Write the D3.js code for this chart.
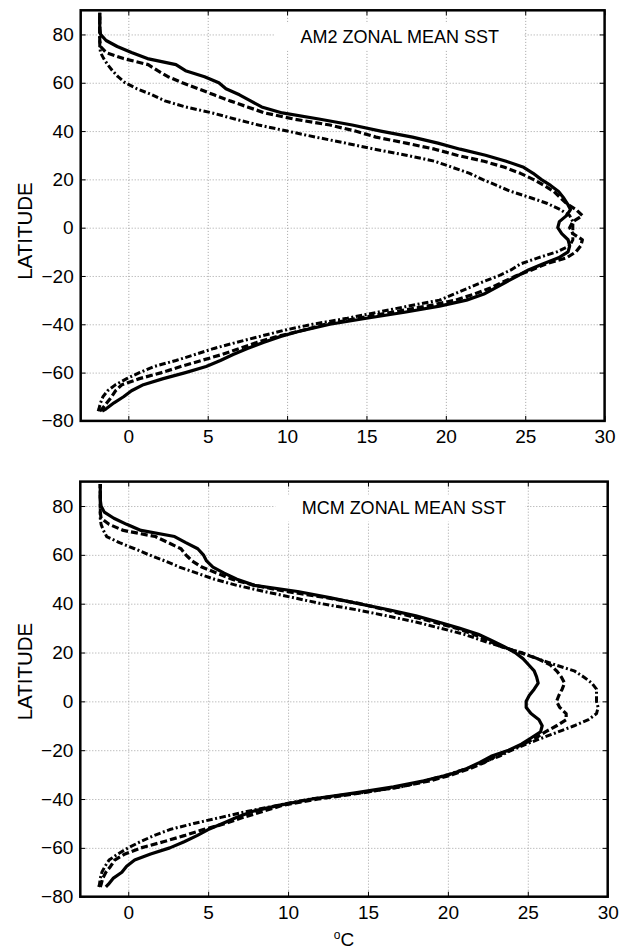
<!DOCTYPE html>
<html>
<head>
<meta charset="utf-8">
<script src="https://cdn.jsdelivr.net/npm/d3@7"></script>
<style>
  html, body { margin: 0; padding: 0; background: #fff; }
  svg { display: block; }
  text { font-family: "Liberation Sans", Arial, Helvetica, sans-serif; fill: #000; }
</style>
</head>
<body>
<svg id="chart" width="627" height="952"></svg>
<script>
// Latitude grid shared by every profile (degrees)
const lat = [-76, -75, -72.5, -70, -67.5, -65, -62.5, -60, -57.5, -55, -52.5, -50,
  -47.5, -45, -42.5, -40, -37.5, -35, -32.5, -30, -27.5, -25, -22.5, -20, -17.5, -15,
  -12.5, -10, -7.5, -5, -2.5, 0, 2.5, 5, 7.5, 10, 12.5, 15, 17.5, 20, 22.5, 25, 27.5,
  30, 32.5, 35, 37.5, 40, 42.5, 45, 47.5, 50, 52.5, 55, 57.5, 60, 62.5, 65, 67.5, 70,
  72.5, 75, 77.5, 80, 82.5, 85, 87.5, 89];

// AM2 zonal mean SST (deg C)
const am2Solid = [-1.65, -1.4, -0.9, -0.3, 0.2, 0.95, 2.2, 3.6, 4.9, 5.8, 6.6, 7.5,
  8.5, 9.6, 11.0, 12.7, 15.0, 17.4, 19.6, 21.3, 22.4, 23.1, 23.8, 24.5, 25.2, 26.1,
  27.1, 27.7, 27.8, 27.7, 27.3, 27.05, 27.15, 27.6, 27.85, 27.65, 27.4, 27.1, 26.6, 26.0, 25.5, 24.9, 23.8,
  22.5, 20.9, 19.5, 17.9, 15.9, 14.1, 12.0, 9.7, 8.4, 7.7, 7.0, 6.15, 5.7, 4.8, 3.6, 3.0, 1.2,
  0.2, -0.7, -1.4, -1.75, -1.8, -1.8, -1.8, -1.8];
const am2Dashed = [-1.8, -1.65, -1.35, -1.05, -0.8, -0.4, 0.7, 2.1, 3.3, 4.6, 5.9, 7.0,
  8.1, 9.4, 11.0, 12.4, 14.5, 16.6, 18.8, 20.6, 21.8, 22.8, 23.6, 24.4, 25.4, 26.3,
  27.6, 28.2, 28.5, 28.6, 28.0, 27.8, 28.0, 28.6, 28.2, 27.6, 27.2, 26.8, 26.2, 25.5, 24.7, 23.7, 22.4,
  20.7, 19.3, 17.5, 15.6, 14.3, 12.7, 10.4, 8.6, 7.5, 6.4, 5.4, 4.4, 3.4, 2.5, 1.85, 1.25, -0.3,
  -1.4, -1.75, -1.8, -1.8, -1.8, -1.8, -1.8, -1.8];
const am2DashDot = [-1.9, -1.85, -1.75, -1.6, -1.3, -0.8, -0.1, 0.7, 1.6, 3.0, 4.2, 5.4,
  6.8, 8.3, 9.8, 11.6, 13.8, 15.7, 17.6, 19.6, 20.5, 21.4, 22.3, 23.3, 24.1, 24.7,
  25.8, 27.0, 27.8, 28.0, 28.0, 28.0, 28.0, 27.8, 27.2, 26.4, 25.3, 24.1, 23.2, 22.3, 21.5, 20.4, 19.3,
  17.5, 15.5, 13.7, 11.8, 10.0, 8.2, 6.7, 5.3, 3.6, 2.3, 1.5, 0.55, -0.2, -0.65, -1.0, -1.3, -1.55,
  -1.75, -1.8, -1.8, -1.8, -1.8, -1.8, -1.8, -1.8];

// MCM zonal mean SST (deg C)
const mcmSolid = [-1.4, -1.25, -0.95, -0.4, -0.1, 0.4, 1.4, 2.6, 3.5, 4.3, 5.0, 5.9,
  6.8, 7.8, 9.5, 11.5, 14.2, 16.6, 18.5, 20.1, 21.2, 22.0, 22.7, 23.8, 24.6, 25.2,
  25.8, 25.9, 25.7, 25.2, 24.9, 24.9, 25.1, 25.4, 25.65, 25.55, 25.4, 25.05, 24.7, 24.2, 23.5, 22.7, 21.9,
  20.7, 19.4, 18.0, 16.3, 14.4, 12.6, 10.6, 7.9, 6.8, 6.0, 5.3, 4.9, 4.7, 4.35, 3.6, 2.9, 0.8,
  -0.1, -0.9, -1.5, -1.7, -1.75, -1.75, -1.75, -1.75];
const mcmDashed = [-1.75, -1.7, -1.6, -1.4, -1.1, -0.85, -0.2, 0.8, 2.2, 3.5, 4.7, 6.1,
  7.2, 8.45, 9.7, 11.9, 14.6, 17.0, 18.9, 20.3, 21.4, 22.3, 23.0, 23.9, 24.7, 25.5,
  26.1, 26.8, 27.4, 27.4, 27.0, 26.8, 26.95, 27.15, 27.3, 27.1, 26.8, 26.4, 25.6, 24.5, 23.3, 22.5, 21.6,
  20.5, 19.1, 17.6, 16.1, 14.5, 12.4, 9.9, 7.9, 6.5, 5.55, 4.6, 4.0, 3.6, 3.3, 2.5, 1.7, -0.3,
  -1.2, -1.7, -1.75, -1.75, -1.75, -1.75, -1.75, -1.75];
const mcmDashDot = [-1.85, -1.8, -1.75, -1.65, -1.45, -1.2, -0.65, 0.0, 0.75, 1.6, 2.6, 4.1,
  5.8, 7.5, 9.4, 11.4, 14.5, 17.1, 18.6, 20.0, 21.2, 22.2, 23.2, 24.0, 24.9, 25.9,
  26.9, 27.9, 28.8, 29.3, 29.4, 29.3, 29.3, 29.3, 29.0, 28.5, 27.9, 26.7, 25.6, 24.6, 23.3, 22.1, 21.0,
  19.5, 18.0, 16.2, 14.3, 12.1, 10.3, 8.5, 6.8, 5.4, 4.3, 3.2, 2.3, 1.3, 0.4, -0.55, -1.35, -1.55,
  -1.7, -1.75, -1.75, -1.75, -1.75, -1.75, -1.75, -1.75];

// Axis ticks
const xTicks = [0, 5, 10, 15, 20, 25, 30];
const yTicks = [-80, -60, -40, -20, 0, 20, 40, 60, 80];
const xDomain = [-3, 30];
const yDomain = [-80, 90];

const panels = [
  { title: "AM2 ZONAL MEAN SST", series: [am2Solid, am2Dashed, am2DashDot],
    box: { left: 80.7, right: 604.6, top: 10.3, bottom: 420.9 }, labelY: 231, xLabel: false },
  { title: "MCM ZONAL MEAN SST", series: [mcmSolid, mcmDashed, mcmDashDot],
    box: { left: 80.3, right: 607.7, top: 481.6, bottom: 896.7 }, labelY: 671.5, xLabel: true }
];

const styles = [
  { width: 3.2, dash: null },
  { width: 3.2, dash: "7,3" },
  { width: 3.0, dash: "6.5,2.5,2,2.5" }
];

const fontStack = '"Liberation Sans", Arial, Helvetica, sans-serif';
const svg = d3.select("#chart");

panels.forEach(p => {
  const b = p.box;
  const x = d3.scaleLinear().domain(xDomain).range([b.left, b.right]);
  const y = d3.scaleLinear().domain(yDomain).range([b.bottom, b.top]);
  const g = svg.append("g");

  // dotted grid
  g.append("g")
    .attr("transform", `translate(0,${b.bottom})`)
    .call(d3.axisBottom(x).tickValues(xTicks.filter(t => t > xDomain[0] && t < xDomain[1]))
      .tickSize(-(b.bottom - b.top)).tickFormat(""))
    .call(s => s.select(".domain").remove())
    .call(s => s.selectAll("line").attr("stroke", "#9a9a9a").attr("stroke-width", 0.9)
      .attr("stroke-dasharray", "1,2"));
  g.append("g")
    .attr("transform", `translate(${b.left},0)`)
    .call(d3.axisLeft(y).tickValues(yTicks.filter(t => t > yDomain[0] && t < yDomain[1]))
      .tickSize(-(b.right - b.left)).tickFormat(""))
    .call(s => s.select(".domain").remove())
    .call(s => s.selectAll("line").attr("stroke", "#9a9a9a").attr("stroke-width", 0.9)
      .attr("stroke-dasharray", "1,2"));

  // white box behind the panel title
  g.append("rect")
    .attr("x", x(9.2)).attr("y", b.top + 13)
    .attr("width", x(24.85) - x(9.2)).attr("height", 27)
    .attr("fill", "#fff");

  // profiles
  const line = d3.line()
    .x(d => x(d[1]))
    .y(d => y(d[0]));
  p.series.forEach((vals, i) => {
    const pts = lat.map((la, k) => [la, vals[k]]);
    g.append("path")
      .datum(pts)
      .attr("d", line)
      .attr("fill", "none")
      .attr("stroke", "#000")
      .attr("stroke-width", styles[i].width)
      .attr("stroke-linejoin", "round")
      .attr("stroke-dasharray", styles[i].dash);
  });

  // inward tick marks on all four sides
  const tl = 5;
  g.append("g").attr("transform", `translate(0,${b.bottom})`)
    .call(d3.axisTop(x).tickValues(xTicks).tickSize(tl).tickFormat(""))
    .call(s => s.select(".domain").remove());
  g.append("g").attr("transform", `translate(0,${b.top})`)
    .call(d3.axisBottom(x).tickValues(xTicks).tickSize(tl).tickFormat(""))
    .call(s => s.select(".domain").remove());
  g.append("g").attr("transform", `translate(${b.left},0)`)
    .call(d3.axisRight(y).tickValues(yTicks).tickSize(tl).tickFormat(""))
    .call(s => s.select(".domain").remove());
  g.append("g").attr("transform", `translate(${b.right},0)`)
    .call(d3.axisLeft(y).tickValues(yTicks).tickSize(tl).tickFormat(""))
    .call(s => s.select(".domain").remove());

  // tick labels
  g.append("g").attr("transform", `translate(0,${b.bottom})`)
    .call(d3.axisBottom(x).tickValues(xTicks).tickSize(0).tickPadding(9))
    .call(s => s.select(".domain").remove())
    .call(s => s.selectAll("text").attr("font-size", 19).style("font-family", fontStack));
  g.append("g").attr("transform", `translate(${b.left},0)`)
    .call(d3.axisLeft(y).tickValues(yTicks).tickSize(0).tickPadding(7))
    .call(s => s.select(".domain").remove())
    .call(s => s.selectAll("text").attr("font-size", 19).style("font-family", fontStack));

  // frame
  g.append("rect")
    .attr("x", b.left).attr("y", b.top)
    .attr("width", b.right - b.left).attr("height", b.bottom - b.top)
    .attr("fill", "none").attr("stroke", "#000").attr("stroke-width", 2.5);

  // panel title
  g.append("text")
    .attr("x", x(10.85)).attr("y", b.top + 32.3)
    .attr("font-size", 18)
    .text(p.title);

  // y-axis label
  g.append("text")
    .attr("transform", `translate(32,${p.labelY}) rotate(-90)`)
    .attr("text-anchor", "middle")
    .attr("font-size", 20.5)
    .text("LATITUDE");

  if (p.xLabel) {
    const t = g.append("text")
      .attr("x", (b.left + b.right) / 2)
      .attr("y", 946)
      .attr("text-anchor", "middle")
      .attr("font-size", 19);
    t.append("tspan").attr("font-size", 12).attr("dy", -7).text("o");
    t.append("tspan").attr("dy", 7).text("C");
  }
});
</script>
</body>
</html>
